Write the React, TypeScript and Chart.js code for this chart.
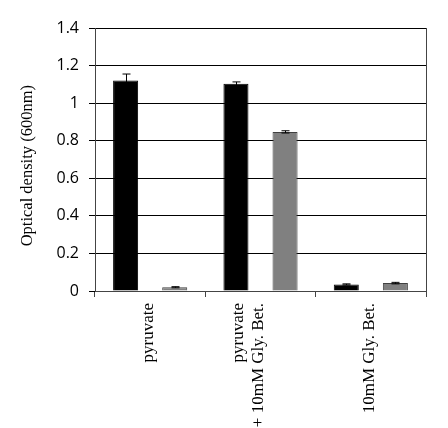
import React, { useEffect, useRef } from "react";
import { Chart, registerables } from "chart.js";

Chart.register(...registerables);

const categories: string[][] = [
  ["", "pyruvate"],
  ["pyruvate", "+ 10mM Gly. Bet."],
  ["", "10mM Gly. Bet."],
];
const seriesA = [1.12, 1.103, 0.035];
const seriesAErr = [0.035, 0.01, 0.003];
const seriesB = [0.02, 0.847, 0.042];
const seriesBErr = [0.003, 0.006, 0.004];
const yTicks = [0, 0.2, 0.4, 0.6, 0.8, 1, 1.2, 1.4];
const yTitle = "Optical density (600nm)";

const errorBarPlugin = {
  id: "errorBars",
  afterDatasetsDraw(chart: any) {
    const ctx = chart.ctx;
    const yScale = chart.scales.y;
    const errs = [seriesAErr, seriesBErr];
    ctx.save();
    ctx.strokeStyle = "#000";
    ctx.lineWidth = 1;
    chart.data.datasets.forEach((ds: any, di: number) => {
      const meta = chart.getDatasetMeta(di);
      meta.data.forEach((bar: any, i: number) => {
        const v = ds.data[i];
        const e = errs[di][i];
        const x = Math.round(bar.x) + 0.5;
        const yt = yScale.getPixelForValue(v + e);
        const yb = yScale.getPixelForValue(v - e);
        ctx.beginPath();
        ctx.moveTo(x, yt);
        ctx.lineTo(x, yb);
        ctx.moveTo(x - 4, yt);
        ctx.lineTo(x + 4, yt);
        ctx.moveTo(x - 4, yb);
        ctx.lineTo(x + 4, yb);
        ctx.stroke();
      });
    });
    ctx.restore();
  },
};

const framePlugin = {
  id: "frame",
  afterDraw(chart: any) {
    const { ctx, chartArea } = chart;
    ctx.save();
    ctx.strokeStyle = "#444";
    ctx.lineWidth = 1;
    ctx.beginPath();
    const r = Math.round(chartArea.right) + 0.5;
    ctx.moveTo(r, chartArea.top);
    ctx.lineTo(r, chartArea.bottom + 6);
    ctx.stroke();
    ctx.restore();
  },
};

export default function App() {
  const ref = useRef<HTMLCanvasElement>(null);
  useEffect(() => {
    if (!ref.current) return;
    const chart = new Chart(ref.current, {
      type: "bar",
      data: {
        labels: categories,
        datasets: [
          {
            label: "A",
            data: seriesA,
            backgroundColor: "#000000",
            borderColor: "#000000",
            borderWidth: 1,
          },
          {
            label: "B",
            data: seriesB,
            backgroundColor: "#808080",
            borderColor: "#404040",
            borderWidth: 1,
          },
        ],
      },
      options: {
        animation: false,
        responsive: false,
        maintainAspectRatio: false,
        layout: { padding: { left: 0, top: 28, right: 22, bottom: 0 } },
        plugins: { legend: { display: false }, tooltip: { enabled: false } },
        datasets: { bar: { categoryPercentage: 0.89, barPercentage: 0.51 } },
        scales: {
          x: {
            offset: true,
            afterFit: (s: any) => {
              s.height = 137;
            },
            grid: {
              offset: true,
              drawOnChartArea: false,
              drawTicks: true,
              tickLength: 6,
              color: "#444",
            },
            border: { display: true, color: "#444" },
            ticks: {
              maxRotation: 90,
              minRotation: 90,
              padding: 6,
              labelOffset: -22,
              color: "#000",
              font: { family: "Liberation Serif", size: 17, lineHeight: 1.2 },
            },
          },
          y: {
            min: 0,
            max: 1.4,
            afterFit: (s: any) => {
              s.width = 95;
            },
            afterBuildTicks: (s: any) => {
              s.ticks = yTicks.map((v) => ({ value: v }));
            },
            grid: {
              color: "#000",
              lineWidth: 1,
              drawTicks: true,
              tickLength: 6,
            },
            border: { display: true, color: "#444" },
            ticks: {
              padding: 10,
              color: "#000",
              font: { family: "Open Sans", size: 16 },
              callback: (v: any) => String(Math.round(Number(v) * 10) / 10),
            },
            title: {
              display: true,
              text: yTitle + "   ",
              color: "#000",
              font: { family: "Liberation Serif", size: 16.5 },
              padding: { top: 18, bottom: 0 },
            },
          },
        },
      },
      plugins: [errorBarPlugin, framePlugin],
    });
    return () => chart.destroy();
  }, []);
  return (
    <div style={{ position: "fixed", left: 0, top: 0, width: 448, height: 428, background: "#fff" }}>
      <canvas ref={ref} width={448} height={428} style={{ display: "block" }} />
    </div>
  );
}
